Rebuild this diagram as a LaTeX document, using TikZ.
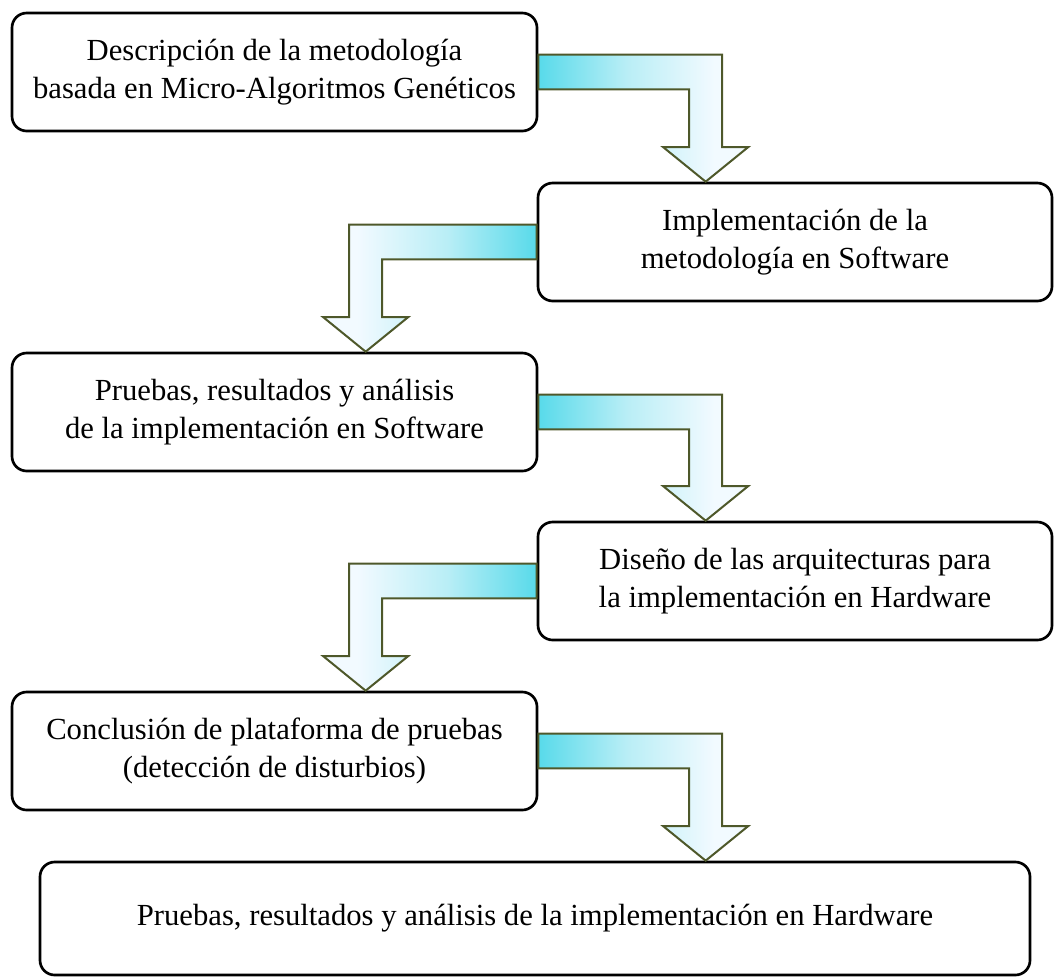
\documentclass[tikz,border=0pt]{standalone}
\usepackage{fontspec}
\setmainfont{Liberation Serif}
\usetikzlibrary{calc}
\definecolor{arrcyan}{RGB}{88,218,234}
\definecolor{arrmid}{RGB}{185,238,246}
\definecolor{arrlight}{RGB}{242,250,255}
\definecolor{arredge}{RGB}{78,88,42}
\pgfdeclarehorizontalshading{arrfade}{100bp}{color(0bp)=(arrcyan); color(25bp)=(arrcyan); color(46bp)=(arrmid); color(67bp)=(arrlight); color(100bp)=(arrlight)}
\tikzset{
  stage/.style={draw=black, line width=2pt, rounded corners=11pt, align=center,
    font=\fontsize{23}{28.5}\selectfont, inner sep=0pt},
  bentarrow/.style={draw=arredge, line width=1.5pt, line join=miter, shading=arrfade},
}
% right-going bent arrow: from east side of #1 down to tip coordinate #2
\newcommand\rbend[2]{%
  \shade[bentarrow, shading angle=0]
    let \p1=(#1.east), \p2=(#2) in
    (\x1,\y1+13.1pt) -- (\x2+12.4pt,\y1+13.1pt) -- (\x2+12.4pt,\y2+26pt)
    -- (\x2+32pt,\y2+26pt) -- (\x2,\y2) -- (\x2-32pt,\y2+26pt)
    -- (\x2-12.4pt,\y2+26pt) -- (\x2-12.4pt,\y1-13.1pt) -- (\x1,\y1-13.1pt) -- cycle;}
% left-going bent arrow: from west side of #1 down to tip coordinate #2
\newcommand\lbend[2]{%
  \shade[bentarrow, shading angle=180]
    let \p1=(#1.west), \p2=(#2) in
    (\x1,\y1+13.1pt) -- (\x2-12.4pt,\y1+13.1pt) -- (\x2-12.4pt,\y2+26pt)
    -- (\x2-32pt,\y2+26pt) -- (\x2,\y2) -- (\x2+32pt,\y2+26pt)
    -- (\x2+12.4pt,\y2+26pt) -- (\x2+12.4pt,\y1-13.1pt) -- (\x1,\y1-13.1pt) -- cycle;}
\begin{document}
\begin{tikzpicture}[x=0.75pt,y=-0.75pt]
\useasboundingbox (0,0) rectangle (1054,979);
\node[stage, minimum width=525*0.75pt, minimum height=118*0.75pt] (b1) at (274.5,72)
  {Descripción de la metodología\\basada en Micro-Algoritmos Genéticos};
\node[stage, minimum width=514*0.75pt, minimum height=118*0.75pt] (b2) at (795,242)
  {Implementación de la\\metodología en Software};
\node[stage, minimum width=525*0.75pt, minimum height=118*0.75pt] (b3) at (274.5,412)
  {Pruebas, resultados y análisis\\de la implementación en Software};
\node[stage, minimum width=514*0.75pt, minimum height=118*0.75pt] (b4) at (795,581)
  {Diseño de las arquitecturas para\\la implementación en Hardware};
\node[stage, minimum width=525*0.75pt, minimum height=118*0.75pt] (b5) at (274.5,751)
  {Conclusión de plataforma de pruebas\\(detección de disturbios)};
\node[stage, minimum width=990*0.75pt, minimum height=113*0.75pt] (b6) at (535,918.5)
  {Pruebas, resultados y análisis de la implementación en Hardware};
\coordinate (t1) at ($(b2.north west)+(169,0)$);
\coordinate (t2) at ($(b3.north west)+(355,0)$);
\coordinate (t3) at ($(b4.north west)+(169,0)$);
\coordinate (t4) at ($(b5.north west)+(355,0)$);
\coordinate (t5) at ($(b6.north west)+(667,0)$);
\rbend{b1}{t1}
\lbend{b2}{t2}
\rbend{b3}{t3}
\lbend{b4}{t4}
\rbend{b5}{t5}
\end{tikzpicture}
\end{document}
